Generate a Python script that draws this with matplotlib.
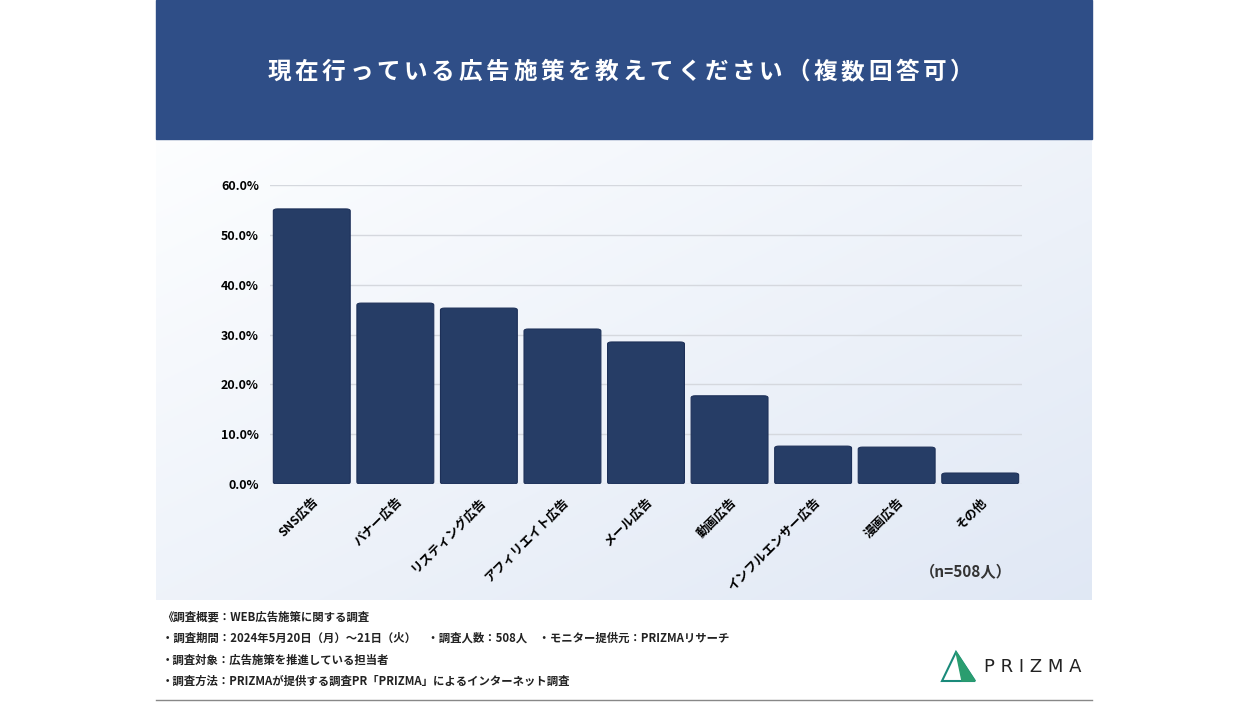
import matplotlib.pyplot as plt
import numpy as np
from matplotlib.patches import FancyBboxPatch, Rectangle, Polygon

plt.rcParams['font.family'] = 'Noto Sans CJK JP'

categories = ['SNS広告', 'バナー広告', 'リスティング広告', 'アフィリエイト広告', 'メール広告',
              '動画広告', 'インフルエンサー広告', '漫画広告', 'その他']
values = [55.2, 36.3, 35.3, 31.1, 28.5, 17.7, 7.6, 7.4, 2.2]
yticks = [0, 10, 20, 30, 40, 50, 60]

W, H = 1248, 702
fig = plt.figure(figsize=(W / 100, H / 100), dpi=100)
bg = fig.add_axes([0, 0, 1, 1])
bg.set_xlim(0, W)
bg.set_ylim(H, 0)
bg.axis('off')

# header
bg.add_patch(Rectangle((156, 0), 936, 139, color='#2f4e87'))
title = '現在行っている広告施策を教えてください（複数回答可）'
# spread characters to mimic letter spacing
n = len(title)
x0, x1 = 279, 962
for i, ch in enumerate(title):
    bg.text(x0 + (x1 - x0) * i / (n - 1), 72, ch, color='white',
            fontsize=17, fontweight='bold', ha='center', va='center')
# gradient panel
grad = np.linspace(0, 1, 256)
gx, gy = np.meshgrid(grad, grad)
g = (gx + gy) / 2
c0 = np.array([0.99, 0.995, 1.0])
c1 = np.array([0.88, 0.91, 0.96])
img = c0 + (c1 - c0) * g[..., None]
bg.imshow(img, extent=(156, 1092, 600, 139), aspect='auto', zorder=0)
bg.plot([156, 1092], [700, 700], color='#888888', lw=1)

footer = ['《調査概要：WEB広告施策に関する調査',
          '・調査期間：2024年5月20日（月）～21日（火）　・調査人数：508人　・モニター提供元：PRIZMAリサーチ',
          '・調査対象：広告施策を推進している担当者',
          '・調査方法：PRIZMAが提供する調査PR「PRIZMA」によるインターネット調査']
for i, t in enumerate(footer):
    bg.text(162, 617 + i * 21.5, t, fontsize=8.2, fontweight='bold', va='center', color='#222222')

# logo
bg.add_patch(Polygon([[956, 652], [942, 681], [975, 681]], closed=True, fill=False,
                     edgecolor='#1a8a7a', lw=1.5))
bg.add_patch(Polygon([[956, 652], [975, 681], [962, 681]], closed=True, color='#2a9d6f'))
bg.text(984, 667, 'P R I Z M A', fontsize=13, va='center', color='#222222', family='DejaVu Sans')

bg.text(1012, 572, '（n=508人）', fontsize=11, fontweight='bold', ha='right', va='center', color='#333333')

ax = fig.add_axes([270 / W, 1 - 484 / H, 752 / W, 299 / H])
ax.set_facecolor('none')
x = np.arange(len(values))
for xi, v in zip(x, values):
    ax.add_patch(FancyBboxPatch((xi - 0.46, 0), 0.92, v, boxstyle='round,pad=0,rounding_size=0.05',
                                mutation_aspect=8, facecolor='#263d66', edgecolor='#1d3058', lw=0.8, zorder=3))
ax.set_xlim(-0.5, len(values) - 0.5)
ax.set_ylim(0, 60)
ax.set_yticks(yticks)
ax.set_yticklabels([f'{t:.1f}%' for t in yticks], fontsize=9, fontweight='bold')
ax.set_xticks(x)
ax.set_xticklabels(categories, rotation=45, ha='right', rotation_mode='anchor', fontsize=9, fontweight='bold')
ax.grid(axis='y', color='#d5d8de', lw=1, zorder=0)
for s in ax.spines.values():
    s.set_visible(False)
ax.tick_params(length=0, pad=8)

fig.savefig('out.png', dpi=100)
